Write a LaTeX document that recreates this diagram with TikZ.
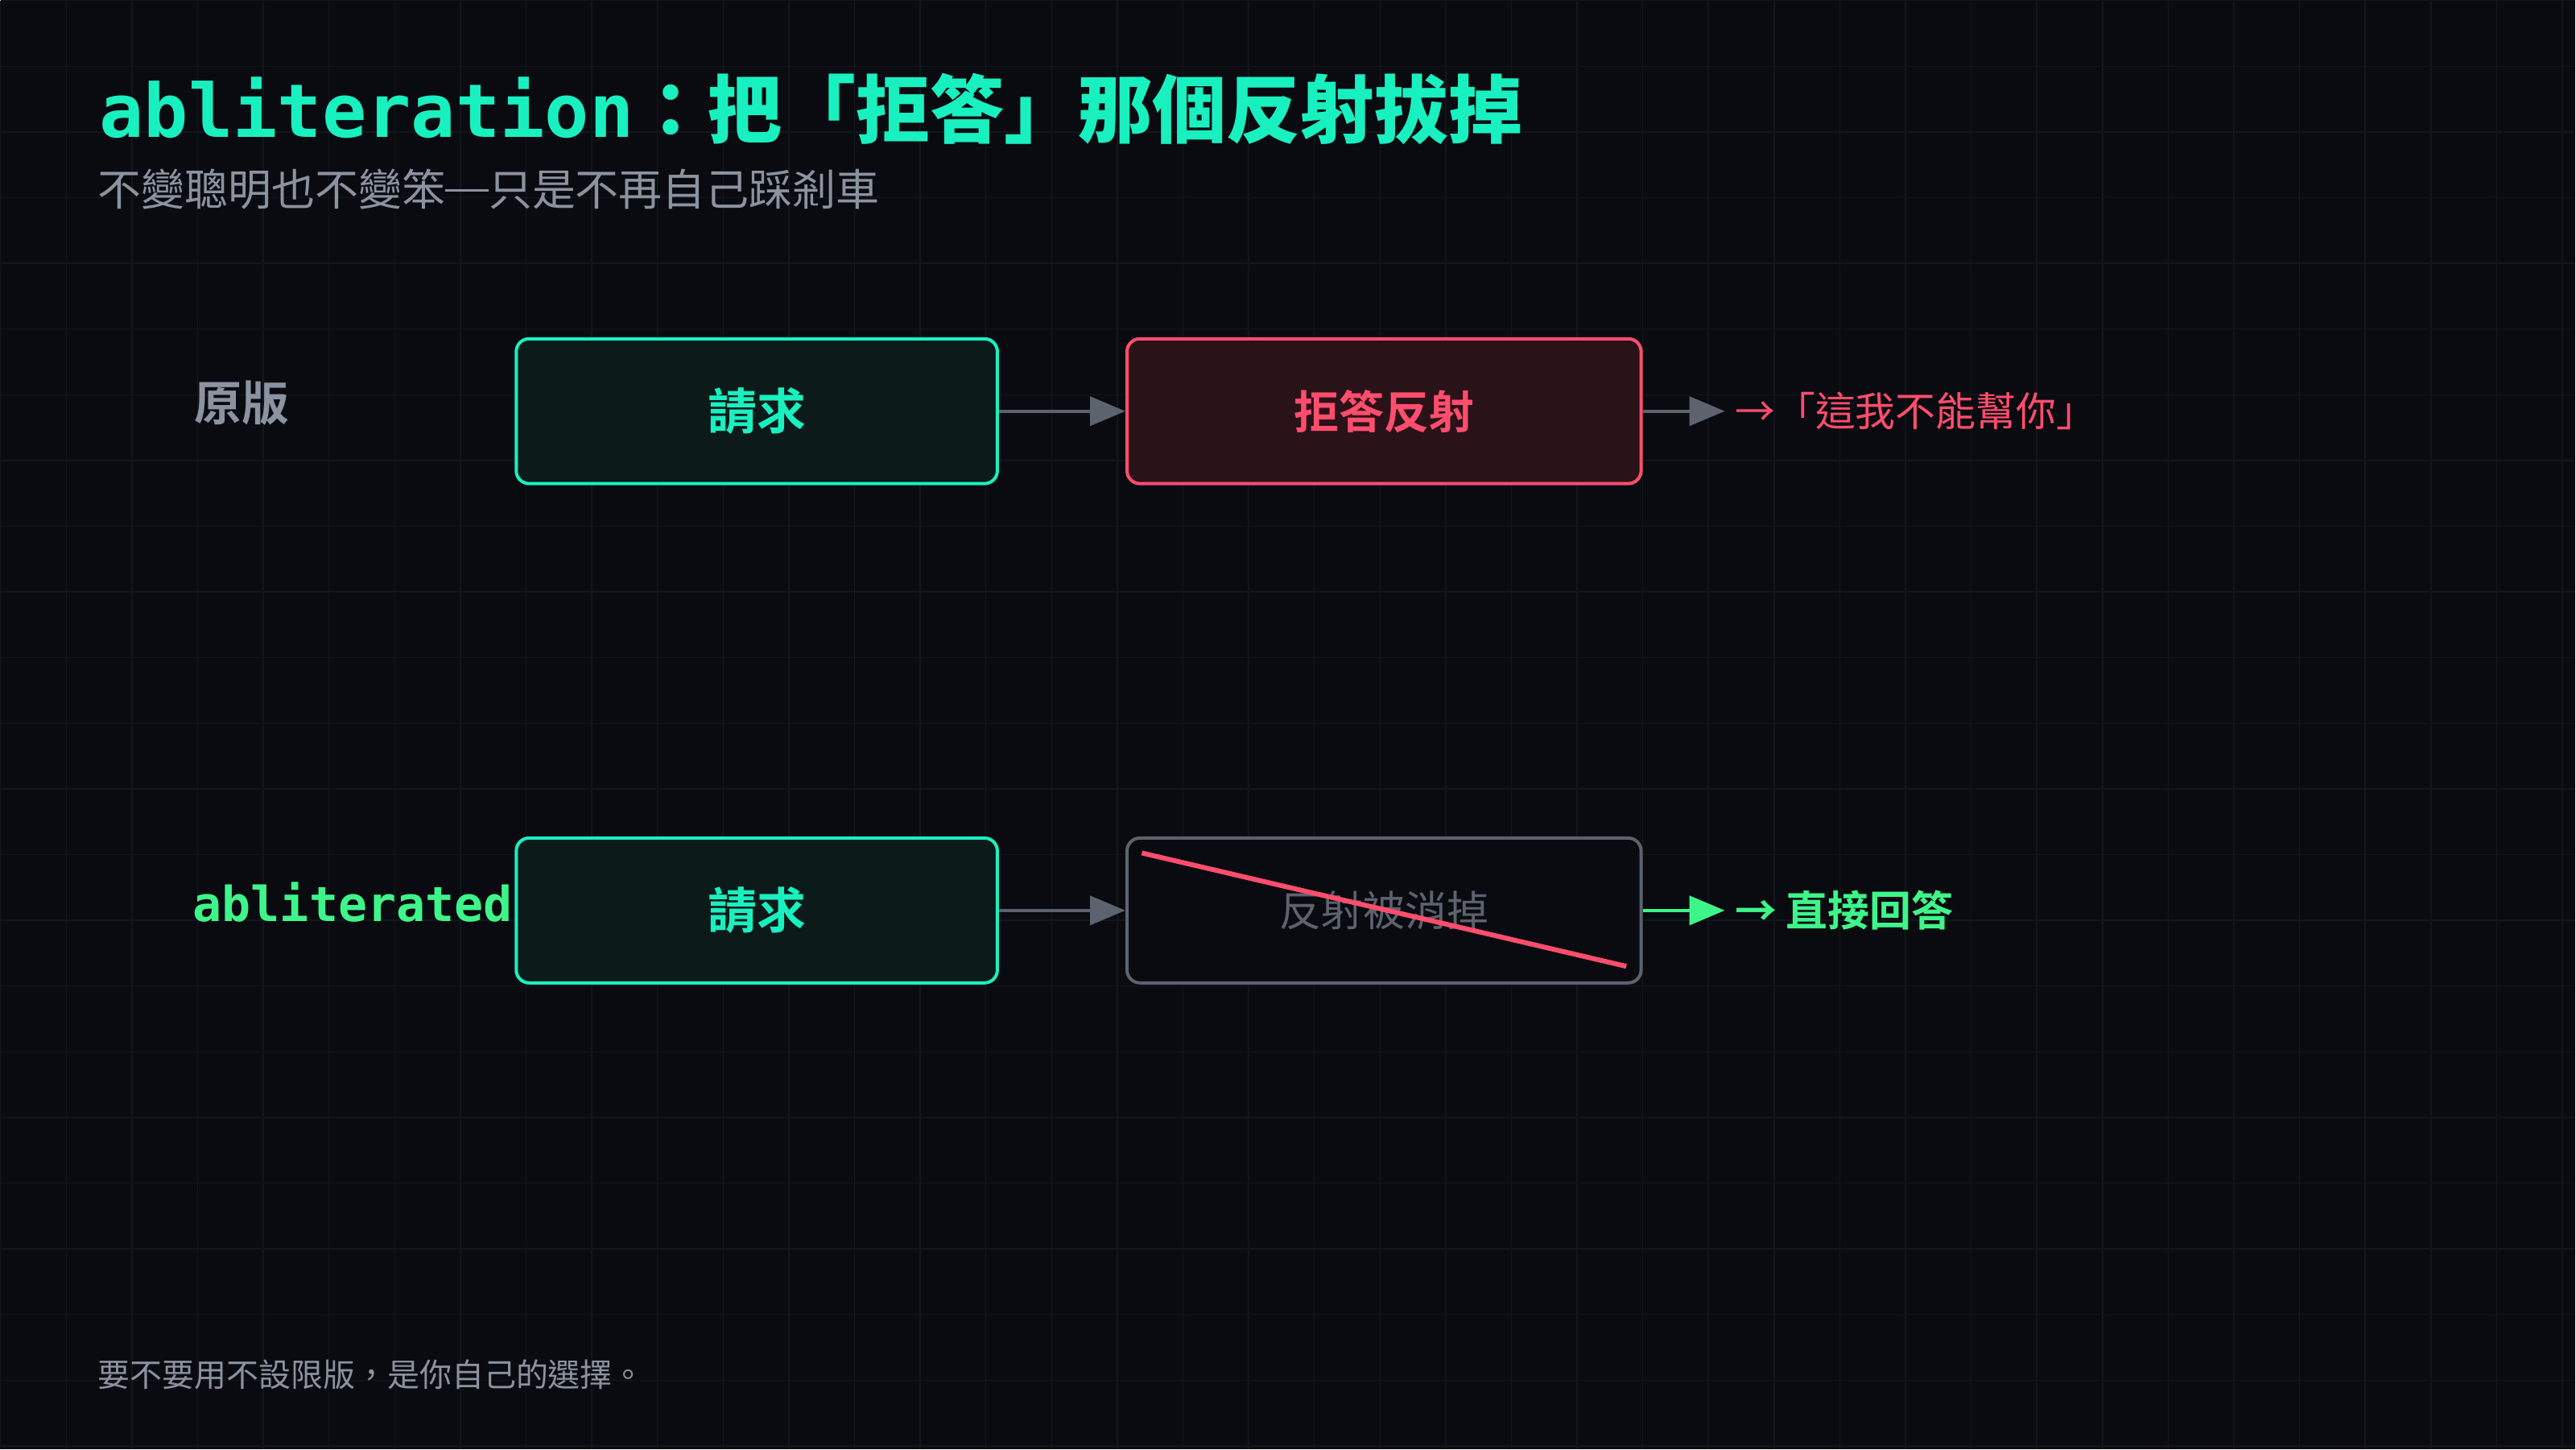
\documentclass[tikz,border=0pt]{standalone}
\usepackage{fontspec}
\setmonofont{DejaVu Sans Mono}
\newfontfamily\cjk{Noto Sans CJK TC}
\newfontfamily\cjkb{Noto Sans CJK TC Bold}
\usetikzlibrary{positioning,arrows.meta}
\definecolor{bg}{HTML}{0A0B10}
\definecolor{gridc}{HTML}{10171A}
\definecolor{teal}{HTML}{19F0C0}
\definecolor{tealfill}{HTML}{0C1A1A}
\definecolor{redc}{HTML}{FF4D6D}
\definecolor{redfill}{HTML}{2A1219}
\definecolor{greyc}{HTML}{8B92A0}
\definecolor{boxgrey}{HTML}{5C626E}
\definecolor{greenc}{HTML}{3EF58A}
\tikzset{
  box/.style={draw, line width=4pt, rounded corners=16pt, minimum width=598pt, minimum height=180pt},
  req/.style={box, draw=teal, fill=tealfill, text=teal, font=\cjkb\fontsize{61}{61}\selectfont},
  wide/.style={box, minimum width=639pt},
  flow/.style={line width=4pt, draw=boxgrey, -{Triangle[length=44pt,width=36pt]}},
}
\begin{document}
\begin{tikzpicture}[x=2.041pt, y=-2.041pt]
  \fill[bg] (0,0) rectangle (1568,882);
  \foreach \gx in {0,40,...,1560} \draw[gridc, line width=1.5pt] (\gx,0) -- (\gx,882);
  \foreach \gy in {0,40,...,880} \draw[gridc, line width=1.5pt] (0,\gy) -- (1568,\gy);
  \useasboundingbox (0,0) rectangle (1568,882);

  % title
  \node[anchor=base west, inner sep=0, text=teal] (title) at (60,83)
    {\fontsize{92}{92}\selectfont\ttfamily\bfseries abliteration\cjkb：把「拒答」那個反射拔掉};
  \node[anchor=base west, inner sep=0, text=greyc, font=\cjk\fontsize{54}{54}\selectfont] (sub) at (59,125)
    {不變聰明也不變笨\rule[0.33em]{1em}{0.06em}只是不再自己踩剎車};

  % row 1
  \node[anchor=west, inner sep=0, text=greyc, font=\cjkb\fontsize{59}{59}\selectfont] (lbl1) at (118,245) {原版};
  \node[req] (req1) at (460.5,250) {請求};
  \node[wide, draw=redc, fill=redfill, text=redc, font=\cjkb\fontsize{56}{56}\selectfont] (refl) at (842.5,250) {拒答反射};
  \coordinate (out1) at (1050,250);
  \draw[flow] (req1) -- (refl);
  \draw[flow] (refl) -- (out1);
  \node[anchor=west, inner sep=0, text=redc, font=\cjk\fontsize{50}{50}\selectfont] (ans1) at (1056,250) {→「這我不能幫你」};

  % row 2
  \node[anchor=west, inner sep=0, text=greenc, font=\ttfamily\bfseries\fontsize{60}{60}\selectfont] (lbl2) at (117,549) {abliterated};
  \node[req] (req2) at (460.5,554) {請求};
  \node[wide, draw=boxgrey, fill=bg, text=boxgrey, font=\cjk\fontsize{52}{52}\selectfont] (gone) at (842.5,554) {反射被消掉};
  \draw[redc, line width=6pt] (695,519) -- (990,588);
  \coordinate (out2) at (1050,554);
  \draw[flow] (req2) -- (gone);
  \draw[flow, draw=greenc] (gone) -- (out2);
  \node[anchor=west, inner sep=0, text=greenc, font=\cjkb\fontsize{52}{52}\selectfont] (ans2) at (1056,554) {→ 直接回答};

  % footer
  \node[anchor=base west, inner sep=0, text=greyc, font=\cjk\fontsize{40}{40}\selectfont] (foot) at (59,844)
    {要不要用不設限版，是你自己的選擇。};
\end{tikzpicture}
\end{document}
